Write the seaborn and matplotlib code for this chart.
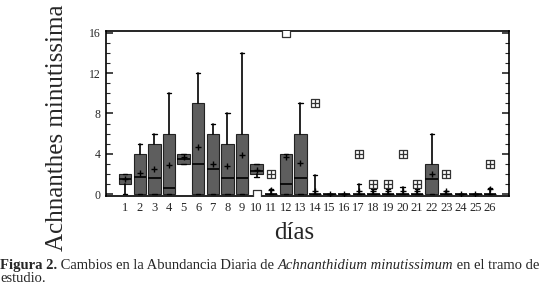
import matplotlib
matplotlib.use("Agg")
import matplotlib.pyplot as plt
import numpy as np
import seaborn as sns

# Box statistics (days 1..26)
days = list(range(1, 27))
q1 = [1, 0, 0, 0, 3, 0, 0, 0, 0, 2, 0, 0, 0, 0, 0, 0, 0, 0, 0, 0, 0, 0, 0, 0, 0, 0]
med = [1.5, 1.7, 1.6, 0.6, 3.5, 3.0, 2.5, 1.6, 1.6, 2.3, 0, 1.0, 1.6, 0, 0, 0, 0, 0, 0, 0, 0, 1.5, 0, 0, 0, 0]
q3 = [2, 4, 5, 6, 4, 9, 6, 5, 6, 3, 0, 4, 6, 0, 0, 0, 0, 0, 0, 0, 0, 3, 0, 0, 0, 0]
whis_lo = [0, 0, 0, 0, 3, 0, 0, 0, 0, 1.7, 0, 0, 0, 0, 0, 0, 0, 0, 0, 0, 0, 0, 0, 0, 0, 0]
whis_hi = [2, 5, 6, 10, 4, 12, 7, 8, 14, 3, 0.5, 4, 9, 1.9, 0, 0, 1, 0.5, 0.5, 0.7, 0.5, 6, 0.3, 0, 0, 0.6]
means = [1.5, 2.1, 2.5, 2.9, 3.7, 4.7, 3.0, 2.8, 3.9, 2.4, 0.4, 3.7, 3.1, 0.3, 0, 0, 0.3, 0.3, 0.3, 0.3, 0.3, 2.0, 0.3, 0, 0, 0.5]
# outliers (crossed squares) and far outliers (open squares)
out_days = [11, 14, 17, 18, 19, 20, 21, 23, 26]
out_vals = [2, 9, 4, 1, 1, 4, 1, 2, 3]
far_days = [10, 12]
far_vals = [0, 16]

sns.set_style("ticks")
plt.rcParams['font.family'] = ['Liberation Serif', 'DejaVu Serif']

fig = plt.figure(figsize=(5.45, 2.97), dpi=100)
ax = fig.add_axes([0.195, 0.34, 0.739, 0.554])

stats = []
for i in range(len(days)):
    stats.append(dict(q1=q1[i], med=med[i], q3=q3[i], whislo=whis_lo[i],
                      whishi=whis_hi[i], mean=means[i], fliers=[]))

ax.bxp(stats, positions=days, widths=0.85, patch_artist=True, showmeans=True,
       showfliers=False, capwidths=0.3,
       boxprops=dict(facecolor='#5e5e5e', edgecolor='#222222', linewidth=0.8),
       medianprops=dict(color='black', linewidth=1.2),
       whiskerprops=dict(color='black', linewidth=1.2),
       capprops=dict(color='black', linewidth=1.0),
       meanprops=dict(marker='+', markeredgecolor='black', markersize=5, markeredgewidth=1))

# outliers: square with a cross
ax.scatter(out_days, out_vals, marker='s', s=30, facecolor='white', edgecolor='#333333', linewidth=0.9, zorder=4)
ax.scatter(out_days, out_vals, marker='+', s=30, color='#333333', linewidth=0.9, zorder=5)
ax.scatter(far_days, far_vals, marker='s', s=36, facecolor='white', edgecolor='#333333', linewidth=0.9, zorder=4)

ax.set_xlim(-0.3, 27.3)
ax.set_ylim(-0.2, 16.15)
ax.set_xticks(days)
ax.set_xticklabels([str(d) for d in days], fontsize=9)
ax.set_yticks([0, 4, 8, 12, 16])
ax.set_yticks(np.arange(0, 17, 1), minor=True)
ax.tick_params(axis='y', which='both', direction='in', right=True, labelsize=8.5, pad=4)
ax.tick_params(axis='y', which='major', length=5, width=1.2)
ax.tick_params(axis='y', which='minor', length=3, width=0.8)
ax.tick_params(axis='x', length=0, pad=4)
for s in ax.spines.values():
    s.set_linewidth(1.2)
    s.set_color('black')

fig.text(57 / 545, 1 - 128 / 297, 'Achnanthes minutissima', rotation=90,
         ha='center', va='center', fontsize=18)
fig.text(294 / 545, 1 - 233 / 297, 'días', ha='center', va='center', fontsize=18)

# caption with mixed styles
fig.canvas.draw()
renderer = fig.canvas.get_renderer()
x = 0.0
y1 = 1 - 269 / 297
parts = [('Figura 2.', 'bold', 'normal'),
         (' Cambios en la Abundancia Diaria de ', 'normal', 'normal'),
         ('Achnanthidium minutissimum', 'normal', 'italic'),
         (' en el tramo de', 'normal', 'normal')]
for txt, wt, st in parts:
    t = fig.text(x, y1, txt, fontsize=10.5, fontweight=wt, fontstyle=st, ha='left', va='baseline')
    bb = t.get_window_extent(renderer)
    x += bb.width / fig.bbox.width
fig.text(0.0, 1 - 282 / 297, 'estudio.', fontsize=10.5, ha='left', va='baseline')

fig.savefig('out.png', dpi=100)
